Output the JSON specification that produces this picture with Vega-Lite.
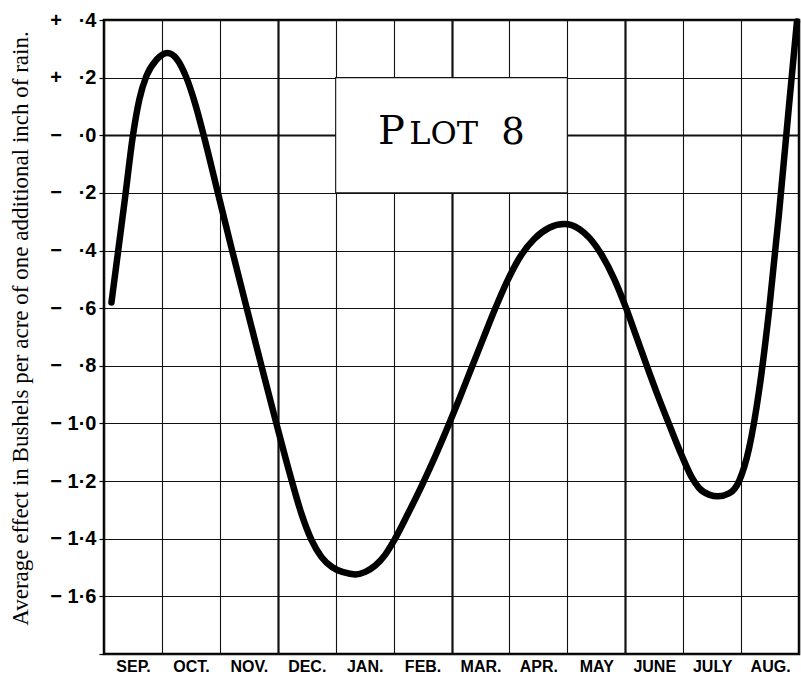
{
  "$schema": "https://vega.github.io/schema/vega-lite/v6.json",
  "width": 695,
  "height": 634,
  "autosize": "none",
  "padding": {"left": 104, "top": 20, "right": 2, "bottom": 24},
  "background": "white",
  "config": {
    "view": {"stroke": "black", "strokeWidth": 2.5},
    "axis": {"gridColor": "#111111", "gridOpacity": 1, "labelColor": "black", "titleColor": "black"}
  },
  "datasets": {
    "curve": [
      {"month": 0.129, "effect": -0.580},
      {"month": 0.250, "effect": -0.393},
      {"month": 0.371, "effect": -0.205},
      {"month": 0.492, "effect": -0.011},
      {"month": 0.612, "effect": 0.126},
      {"month": 0.733, "effect": 0.206},
      {"month": 0.906, "effect": 0.262},
      {"month": 1.096, "effect": 0.2855},
      {"month": 1.251, "effect": 0.266},
      {"month": 1.423, "effect": 0.200},
      {"month": 1.579, "effect": 0.106},
      {"month": 1.717, "effect": 0.003},
      {"month": 1.958, "effect": -0.193},
      {"month": 2.200, "effect": -0.390},
      {"month": 2.459, "effect": -0.596},
      {"month": 2.717, "effect": -0.799},
      {"month": 2.976, "effect": -1.000},
      {"month": 3.235, "effect": -1.194},
      {"month": 3.407, "effect": -1.312},
      {"month": 3.580, "effect": -1.403},
      {"month": 3.753, "effect": -1.463},
      {"month": 3.942, "effect": -1.499},
      {"month": 4.132, "effect": -1.516},
      {"month": 4.339, "effect": -1.524},
      {"month": 4.512, "effect": -1.515},
      {"month": 4.684, "effect": -1.493},
      {"month": 4.857, "effect": -1.455},
      {"month": 5.012, "effect": -1.405},
      {"month": 5.254, "effect": -1.311},
      {"month": 5.495, "effect": -1.212},
      {"month": 5.719, "effect": -1.114},
      {"month": 5.926, "effect": -1.017},
      {"month": 6.134, "effect": -0.915},
      {"month": 6.340, "effect": -0.810},
      {"month": 6.548, "effect": -0.705},
      {"month": 6.737, "effect": -0.610},
      {"month": 6.962, "effect": -0.506},
      {"month": 7.203, "effect": -0.416},
      {"month": 7.428, "effect": -0.360},
      {"month": 7.687, "effect": -0.321},
      {"month": 7.946, "effect": -0.308},
      {"month": 8.204, "effect": -0.325},
      {"month": 8.377, "effect": -0.355},
      {"month": 8.584, "effect": -0.412},
      {"month": 8.808, "effect": -0.498},
      {"month": 9.015, "effect": -0.600},
      {"month": 9.187, "effect": -0.696},
      {"month": 9.377, "effect": -0.803},
      {"month": 9.584, "effect": -0.915},
      {"month": 9.757, "effect": -1.003},
      {"month": 9.981, "effect": -1.114},
      {"month": 10.154, "effect": -1.189},
      {"month": 10.274, "effect": -1.224},
      {"month": 10.447, "effect": -1.247},
      {"month": 10.602, "effect": -1.253},
      {"month": 10.792, "effect": -1.243},
      {"month": 10.965, "effect": -1.200},
      {"month": 11.137, "effect": -1.087},
      {"month": 11.310, "effect": -0.887},
      {"month": 11.482, "effect": -0.610},
      {"month": 11.655, "effect": -0.271},
      {"month": 11.827, "effect": 0.102},
      {"month": 11.965, "effect": 0.395}
    ]
  },
  "layer": [
    {
      "data": {"name": "curve"},
      "mark": {"type": "line", "interpolate": "monotone", "color": "black", "strokeWidth": 6.5, "strokeCap": "round", "strokeJoin": "round"},
      "encoding": {
        "x": {
          "field": "month", "type": "quantitative",
          "scale": {"domain": [0, 12], "nice": false, "zero": false},
          "axis": {
            "values": [0, 1, 2, 3, 4, 5, 6, 7, 8, 9, 10, 11, 12],
            "grid": true,
            "gridWidth": {"condition": {"test": "datum.value == 3 || datum.value == 6 || datum.value == 9", "value": 2.2}, "value": 1.1},
            "domain": false,
            "ticks": false,
            "labelOffset": 29,
            "labelExpr": "datum.value < 12 ? ['SEP.','OCT.','NOV.','DEC.','JAN.','FEB.','MAR.','APR.','MAY','JUNE','JULY','AUG.'][datum.value] : ''",
            "labelFont": "Liberation Sans",
            "labelFontWeight": "bold",
            "labelFontSize": 16,
            "labelPadding": 4,
            "labelFlush": false,
            "labelOverlap": false,
            "labelBound": false,
            "title": null
          }
        },
        "y": {
          "field": "effect", "type": "quantitative",
          "scale": {"domain": [-1.8, 0.4], "nice": false, "zero": false},
          "axis": {
            "values": [0.4, 0.2, 0, -0.2, -0.4, -0.6, -0.8, -1, -1.2, -1.4, -1.6, -1.8],
            "grid": true,
            "gridWidth": {"condition": {"test": "abs(datum.value) < 0.01", "value": 1.8}, "value": 1.1},
            "domain": false,
            "ticks": true,
            "tickSize": 5,
            "tickColor": "black",
            "tickWidth": 1.2,
            "labelExpr": "datum.value < -1.7 ? '' : (datum.value > 0.05 ? '+ ' : '− ') + (datum.value < -0.95 ? '1' : '\u2007') + '·' + (round(abs(datum.value) * 10) % 10)",
            "labelFont": "Liberation Sans",
            "labelFontWeight": "bold",
            "labelFontSize": 20,
            "labelPadding": 3,
            "labelOverlap": false,
            "labelFlush": false,
            "labelBound": false,
            "title": "Average effect in Bushels per acre of one additional inch of rain.",
            "titleFont": "Liberation Serif",
            "titleFontWeight": "normal",
            "titleFontSize": 23,
            "titlePadding": 17,
            "titleY": 308
          }
        }
      }
    },
    {
      "data": {"values": [{"x0": 4, "x1": 8, "y0": 0.2, "y1": -0.2}]},
      "mark": {"type": "rect", "fill": "white", "stroke": "#111111", "strokeWidth": 1.1},
      "encoding": {
        "x": {"field": "x0", "type": "quantitative"},
        "x2": {"field": "x1"},
        "y": {"field": "y0", "type": "quantitative"},
        "y2": {"field": "y1"}
      }
    },
    {
      "data": {"values": [{"label": "P", "x": 4.73, "y": -0.03}]},
      "mark": {"type": "text", "font": "DejaVu Serif", "fontSize": 40, "align": "left", "baseline": "alphabetic", "color": "black"},
      "encoding": {
        "x": {"field": "x", "type": "quantitative"},
        "y": {"field": "y", "type": "quantitative"},
        "text": {"field": "label"}
      }
    },
    {
      "data": {"values": [{"label": "LOT", "x": 5.27, "y": -0.03}]},
      "mark": {"type": "text", "font": "DejaVu Serif", "fontSize": 32, "align": "left", "baseline": "alphabetic", "color": "black"},
      "encoding": {
        "x": {"field": "x", "type": "quantitative"},
        "y": {"field": "y", "type": "quantitative"},
        "text": {"field": "label"}
      }
    },
    {
      "data": {"values": [{"label": "8", "x": 6.86, "y": -0.03}]},
      "mark": {"type": "text", "font": "DejaVu Serif", "fontSize": 37, "align": "left", "baseline": "alphabetic", "color": "black"},
      "encoding": {
        "x": {"field": "x", "type": "quantitative"},
        "y": {"field": "y", "type": "quantitative"},
        "text": {"field": "label"}
      }
    }
  ]
}
